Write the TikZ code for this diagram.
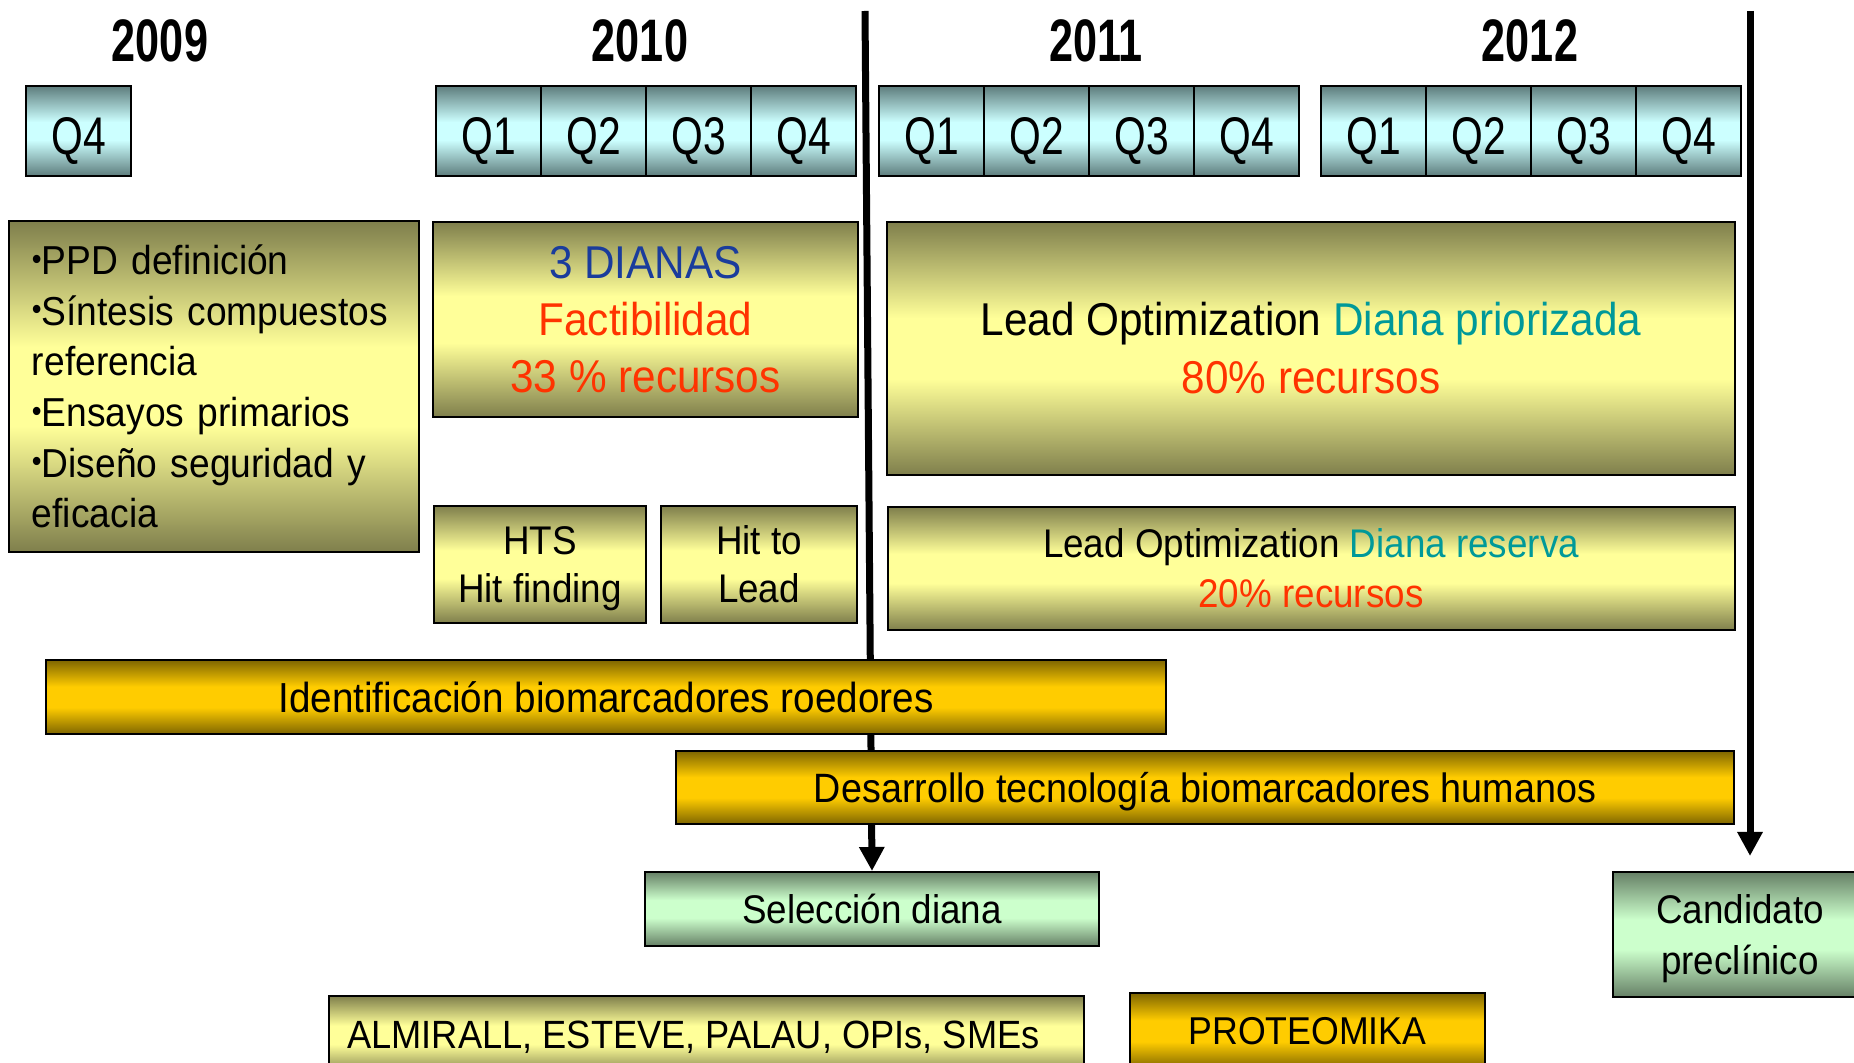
\documentclass[tikz,border=0pt]{standalone}
\usepackage{fontspec}
\setmainfont{Liberation Sans}[FakeStretch=0.92]
\newfontfamily\qfont{Liberation Sans}[FakeStretch=0.77]
\newfontfamily\yearfont{Liberation Sans}[FakeStretch=0.72]
\usepackage{graphicx}
\usepackage{tikz}
\usetikzlibrary{positioning,arrows.meta,backgrounds}

\definecolor{qdark}{RGB}{94,125,125}
\definecolor{qlight}{RGB}{204,255,255}
\definecolor{olivedark}{RGB}{127,127,76}
\definecolor{olivelight}{RGB}{255,255,153}
\definecolor{golddark}{RGB}{127,102,0}
\definecolor{goldlight}{RGB}{255,204,0}
\definecolor{greendark}{RGB}{102,128,102}
\definecolor{greenlight}{RGB}{204,255,204}
\definecolor{dianablue}{RGB}{26,60,156}
\definecolor{factred}{RGB}{255,51,0}
\definecolor{dianateal}{RGB}{0,153,153}

\pgfdeclareverticalshading{qshade}{100bp}{color(0bp)=(qdark); color(25bp)=(qdark); color(45bp)=(qlight); color(55bp)=(qlight); color(75bp)=(qdark); color(100bp)=(qdark)}
\pgfdeclareverticalshading{oliveshade}{100bp}{color(0bp)=(olivedark); color(25bp)=(olivedark); color(44bp)=(olivelight); color(56bp)=(olivelight); color(75bp)=(olivedark); color(100bp)=(olivedark)}
\pgfdeclareverticalshading{goldshade}{100bp}{color(0bp)=(golddark); color(25bp)=(golddark); color(43bp)=(goldlight); color(57bp)=(goldlight); color(75bp)=(golddark); color(100bp)=(golddark)}
\pgfdeclareverticalshading{greenshade}{100bp}{color(0bp)=(greendark); color(25bp)=(greendark); color(44bp)=(greenlight); color(56bp)=(greenlight); color(75bp)=(greendark); color(100bp)=(greendark)}

\newcommand{\pt}{\raisebox{0.25ex}{\scalebox{0.75}{•}}}
\newcommand{\nodesc}[1]{\raisebox{0pt}[\height][0pt]{#1}}

\tikzstyle{year} = [inner sep=0pt, font=\yearfont\bfseries\fontsize{30}{30}\selectfont]
\tikzstyle{qbox} = [rectangle, draw, line width=1pt, shading=qshade, minimum width=52.5pt, minimum height=45pt, inner sep=0pt, outer sep=0pt, text height=23.4pt, text depth=0pt, font=\qfont\fontsize{26.5}{26.5}\selectfont]
\tikzstyle{olivebox} = [rectangle, draw, line width=1pt, shading=oliveshade, inner sep=0pt, align=center, font=\fontsize{20}{24.5}\selectfont]
\tikzstyle{goldbox} = [rectangle, draw, line width=1pt, shading=goldshade, inner sep=0pt, align=center, font=\fontsize{20.5}{24.5}\selectfont]
\tikzstyle{greenbox} = [rectangle, draw, line width=1pt, shading=greenshade, inner sep=0pt, align=center, font=\fontsize{20}{25.5}\selectfont]
\tikzstyle{line} = [draw, line width=3.5pt, -{Triangle[length=12pt,width=12pt]}]

\begin{document}
\begin{tikzpicture}[x=0.5pt, y=-0.5pt]
    \useasboundingbox (0,0) rectangle (1854,1063);
    \clip (0,0) rectangle (1854,1063);

    % years
    \node [year] (y2009) at (160,41) {2009};
    \node [year] (y2010) at (640,41) {2010};
    \node [year] (y2011) at (1096,41) {2011};
    \node [year] (y2012) at (1530,41) {2012};

    % quarters
    \node [qbox] (q09d) at (78.5,131) {Q4};
    \node [qbox, anchor=west] (q10a) at (436,131) {Q1};
    \node [qbox, right=0pt of q10a] (q10b) {Q2};
    \node [qbox, right=0pt of q10b] (q10c) {Q3};
    \node [qbox, right=0pt of q10c] (q10d) {Q4};
    \node [qbox, anchor=west] (q11a) at (879,131) {Q1};
    \node [qbox, right=0pt of q11a] (q11b) {Q2};
    \node [qbox, right=0pt of q11b] (q11c) {Q3};
    \node [qbox, right=0pt of q11c] (q11d) {Q4};
    \node [qbox, anchor=west] (q12a) at (1321,131) {Q1};
    \node [qbox, right=0pt of q12a] (q12b) {Q2};
    \node [qbox, right=0pt of q12b] (q12c) {Q3};
    \node [qbox, right=0pt of q12c] (q12d) {Q4};

    % tasks
    \node [olivebox, align=left, text width=182pt, minimum height=165.5pt, inner xsep=11.5pt, font=\fontsize{20.2}{25.3}\selectfont] (prep) at (214,386.5)
        {\pt PPD~definición\\\pt Síntesis~compuestos\\referencia\\\pt Ensayos~primarios\\\pt Diseño~seguridad~y\\eficacia};
    \node [olivebox, minimum width=212.5pt, minimum height=97.5pt, font=\fontsize{23}{28.5}\selectfont] (dianas) at (645.5,319.5)
        {\textcolor{dianablue}{3 DIANAS}\\\textcolor{factred}{Factibilidad}\\\textcolor{factred}{33 \% recursos}};
    \node [olivebox, minimum width=424pt, minimum height=126.5pt, font=\fontsize{23}{29}\selectfont] (leadprio) at (1311,348.5)
        {Lead Optimization \textcolor{dianateal}{Diana priorizada}\\\textcolor{factred}{80\% recursos}};
    \node [olivebox, minimum width=106pt, minimum height=58.5pt, font=\fontsize{20}{24.2}\selectfont] (hts) at (540,564.5) {HTS\\\nodesc{Hit finding}};
    \node [olivebox, minimum width=98pt, minimum height=58.5pt, font=\fontsize{20}{24.2}\selectfont] (hitlead) at (759,564.5) {Hit to\\Lead};
    \node [olivebox, minimum width=423.5pt, minimum height=61.5pt, font=\fontsize{20}{25}\selectfont] (leadres) at (1311,568.5)
        {Lead Optimization \textcolor{dianateal}{Diana reserva}\\\textcolor{factred}{20\% recursos}};

    % biomarkers
    \node [goldbox, minimum width=560pt, minimum height=37pt, font=\fontsize{21}{24.5}\selectfont] (roed) at (606,697) {Identificación biomarcadores roedores};
    \node [goldbox, minimum width=529pt, minimum height=36.5pt] (human) at (1205,787.5) {\nodesc{Desarrollo tecnología biomarcadores humanos}};

    % milestones
    \node [greenbox, minimum width=227pt, minimum height=37pt] (sel) at (872,909) {Selección diana};
    \node [greenbox, minimum width=127pt, minimum height=62.5pt] (cand) at (1740,934.5) {Candidato\\\nodesc{preclínico}};

    % partners
    \node [olivebox, minimum width=377.5pt, minimum height=39pt, font=\fontsize{19.7}{24.5}\selectfont] (partners) at (706.5,1035) {\nodesc{ALMIRALL, ESTEVE, PALAU, OPIs, SMEs}\hspace{13pt}};
    \node [goldbox, minimum width=177.5pt, minimum height=38pt, font=\fontsize{19.4}{24.5}\selectfont] (proteo) at (1307.5,1031) {PROTEOMIKA};

    \coordinate (top1) at (865,11);
    \coordinate (top2) at (1750,11);
    \coordinate (end2) at (1750,856);

    \begin{pgfonlayer}{background}
        \path [line] (top1) -- (sel.north);
        \path [line] (top2) -- (end2);
    \end{pgfonlayer}
\end{tikzpicture}
\end{document}
